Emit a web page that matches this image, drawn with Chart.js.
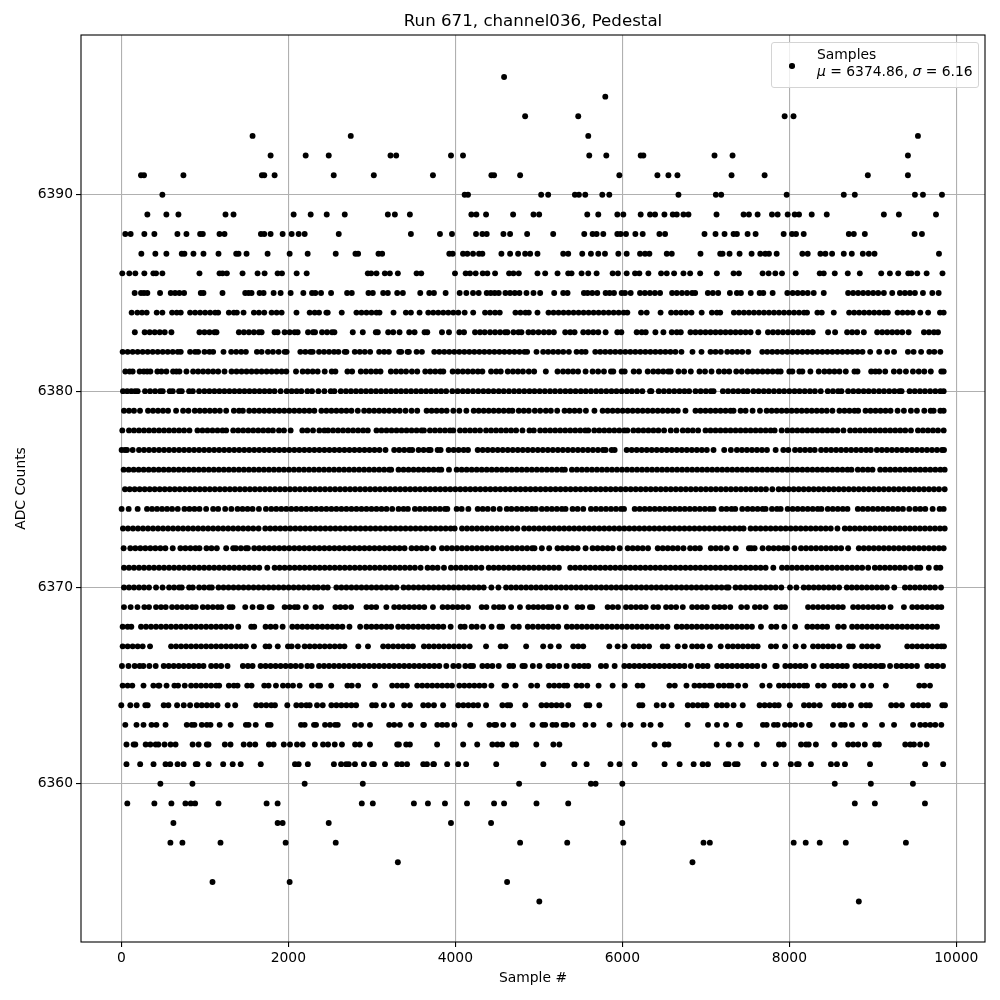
<!DOCTYPE html>
<html>
<head>
<meta charset="utf-8">
<title>Run 671, channel036, Pedestal</title>
<script src="https://cdn.jsdelivr.net/npm/chart.js@4"></script>
<style>
html, body { margin: 0; padding: 0; background: #fff; }
#wrap { position: relative; width: 1000px; height: 1000px; }
#legendBox {
  position: absolute; left: 771px; top: 42px; width: 206px; height: 44px;
  background: rgba(255,255,255,0.8); border: 1px solid #d4d4d4; border-radius: 3px;
  font-family: "DejaVu Sans"; font-size: 13.89px; color: #000;
}
#legendDot { position: absolute; left: 17px; top: 20px; width: 5.5px; height: 5.5px; border-radius: 50%; background: #000; }
#legendText { position: absolute; left: 45px; top: 3px; line-height: 17px; white-space: nowrap; }
</style>
</head>
<body>
<div id="wrap">
  <canvas id="myChart" width="1000" height="1000"></canvas>
  <div id="legendBox">
    <div id="legendDot"></div>
    <div id="legendText">Samples<br><i>μ</i> = 6374.86, <i>σ</i> = 6.16</div>
  </div>
</div>
<script>
var xTicks = [0, 2000, 4000, 6000, 8000, 10000];
var yTicks = [6360, 6370, 6380, 6390];

// sample numbers, one list per ADC level
var s6396 = [4584];
var s6395 = [5796];
var s6394 = [4836, 5472, 7944, 8050];
var s6393 = [1572, 2748, 5592, 9540];
var s6392 = [1788, 2208, 2484, 3224, 3292, 3948, 4092, 5604, 5808, 6220, 6252, 7104, 7320, 9420];
var s6391 = [236, 272, 744, 1684, 1712, 1836, 2544, 3024, 3732, 4432, 4464, 4776, 5964, 6420, 6552, 6660, 7308, 7704, 8940, 9420];
var s6390 = [492, 4112, 4152, 5028, 5112, 5432, 5480, 5556, 5760, 5844, 6672, 7120, 7184, 7968, 8652, 8784, 9504, 9600, 9828];
var s6389 = [312, 540, 684, 1248, 1344, 2064, 2268, 2460, 2676, 3192, 3276, 3456, 4192, 4252, 4368, 4692, 4936, 5004, 5580, 5712, 5940, 6012, 6220, 6332, 6392, 6504, 6604, 6652, 6732, 6792, 7128, 7452, 7516, 7620, 7792, 7860, 7980, 8064, 8116, 8268, 8448, 9132, 9312, 9756];
var s6388 = [48, 112, 276, 396, 672, 780, 944, 976, 1176, 1236, 1672, 1712, 1788, 1932, 2040, 2124, 2196, 2604, 3468, 3816, 3960, 4248, 4324, 4376, 4576, 4656, 4860, 5172, 5544, 5644, 5692, 5772, 5940, 5980, 6044, 6156, 6244, 6444, 6512, 6984, 7116, 7224, 7332, 7372, 7500, 7596, 7932, 8032, 8080, 8172, 8712, 8772, 8904, 9500, 9588];
var s6387 = [240, 408, 540, 724, 756, 864, 984, 1164, 1376, 1404, 1500, 1752, 2016, 2232, 2568, 2804, 2836, 3080, 3124, 3928, 3968, 4092, 4144, 4212, 4284, 4324, 4552, 4656, 4752, 4836, 4896, 4984, 5292, 5352, 5520, 5624, 5712, 5792, 5952, 6052, 6212, 6272, 6324, 6532, 6592, 6936, 7172, 7200, 7284, 7404, 7548, 7652, 7712, 7756, 7848, 8156, 8220, 8372, 8432, 8512, 8652, 8748, 8880, 8952, 9020, 9792];
var s6386 = [12, 96, 168, 276, 384, 416, 492, 936, 1176, 1212, 1264, 1452, 1632, 1716, 1872, 1924, 2100, 2220, 2952, 2992, 3056, 3156, 3216, 3312, 3536, 3592, 3996, 4124, 4176, 4244, 4328, 4384, 4476, 4644, 4696, 4760, 4984, 5076, 5224, 5352, 5392, 5512, 5592, 5692, 5884, 5948, 6052, 6152, 6204, 6312, 6464, 6532, 6620, 6732, 6812, 6932, 7132, 7332, 7396, 7680, 7752, 7832, 7912, 8076, 8364, 8412, 8544, 8700, 8844, 9100, 9204, 9304, 9424, 9460, 9532, 9644, 9834];
var s6385 = [160, 236, 272, 312, 464, 592, 644, 696, 752, 952, 984, 1212, 1484, 1524, 1560, 1656, 1704, 1824, 1908, 2028, 2180, 2284, 2324, 2392, 2512, 2704, 2760, 2960, 3012, 3136, 3192, 3304, 3372, 3580, 3688, 3744, 3884, 4052, 4132, 4212, 4280, 4376, 4424, 4472, 4520, 4600, 4656, 4712, 4768, 4852, 4936, 5016, 5184, 5292, 5344, 5540, 5584, 5640, 5700, 5800, 5848, 5900, 5992, 6032, 6100, 6212, 6270, 6330, 6390, 6452, 6596, 6652, 6714, 6775, 6836, 6872, 7024, 7084, 7148, 7288, 7372, 7420, 7538, 7644, 7688, 7800, 7976, 8040, 8100, 8160, 8220, 8292, 8412, 8704, 8764, 8824, 8884, 8944, 9004, 9064, 9132, 9232, 9324, 9384, 9444, 9504, 9600, 9712, 9788];
var s6384 = [124, 192, 248, 304, 424, 492, 608, 664, 712, 824, 884, 944, 1004, 1064, 1124, 1160, 1288, 1348, 1384, 1464, 1588, 1648, 1712, 1800, 1860, 1920, 2098, 2256, 2316, 2368, 2456, 2472, 2640, 2816, 2876, 2936, 2996, 3056, 3092, 3260, 3408, 3468, 3572, 3676, 3736, 3796, 3856, 3916, 3976, 4036, 4112, 4214, 4356, 4416, 4476, 4532, 4720, 4780, 4840, 4880, 4984, 5116, 5176, 5236, 5296, 5356, 5416, 5476, 5536, 5596, 5656, 5716, 5776, 5836, 5896, 5956, 6016, 6060, 6224, 6292, 6458, 6584, 6644, 6704, 6764, 6828, 6950, 7072, 7132, 7172, 7336, 7396, 7456, 7516, 7576, 7636, 7696, 7756, 7816, 7876, 7936, 7996, 8056, 8116, 8176, 8212, 8336, 8388, 8532, 8716, 8776, 8836, 8896, 8956, 9016, 9076, 9136, 9180, 9296, 9356, 9416, 9476, 9568, 9662, 9804, 9848];
var s6383 = [162, 280, 340, 400, 460, 520, 600, 936, 996, 1056, 1116, 1140, 1408, 1468, 1528, 1588, 1648, 1680, 1836, 1872, 1956, 2016, 2076, 2112, 2236, 2296, 2320, 2404, 2464, 2524, 2552, 2772, 2892, 3048, 3072, 3196, 3256, 3332, 3448, 3512, 3632, 3664, 3840, 3924, 4048, 4104, 4236, 4296, 4352, 4416, 4476, 4536, 4596, 4624, 4696, 4756, 4792, 4876, 4932, 4996, 5060, 5120, 5180, 5316, 5376, 5428, 5532, 5592, 5652, 5712, 5800, 5940, 5988, 6172, 6232, 6280, 6396, 6492, 6592, 6652, 6700, 6816, 6876, 6936, 6996, 7056, 7116, 7176, 7236, 7296, 7356, 7416, 7476, 7536, 7628, 7744, 7804, 7864, 7924, 7984, 8044, 8104, 8164, 8224, 8280, 8464, 8548, 8692, 8752, 8812, 8892, 9052, 9112, 9172, 9232, 9292, 9352, 9428, 9612, 9672, 9732, 9780];
var s6382 = [16, 76, 136, 196, 256, 316, 376, 436, 496, 556, 616, 676, 712, 824, 884, 920, 996, 1056, 1100, 1224, 1316, 1376, 1436, 1492, 1624, 1680, 1756, 1816, 1884, 1956, 1980, 2144, 2204, 2264, 2292, 2368, 2428, 2488, 2548, 2600, 2676, 2696, 2796, 2856, 2916, 2980, 3088, 3148, 3204, 3328, 3352, 3428, 3444, 3536, 3600, 3748, 3808, 3868, 3928, 3988, 4048, 4108, 4168, 4228, 4288, 4348, 4408, 4468, 4528, 4588, 4648, 4708, 4768, 4828, 4860, 4972, 5052, 5112, 5172, 5232, 5292, 5360, 5452, 5512, 5560, 5676, 5736, 5796, 5856, 5916, 5976, 6036, 6096, 6156, 6216, 6276, 6336, 6396, 6456, 6516, 6576, 6636, 6708, 6840, 6948, 7056, 7116, 7180, 7256, 7316, 7376, 7436, 7508, 7676, 7736, 7796, 7856, 7916, 7976, 8036, 8096, 8156, 8216, 8276, 8336, 8396, 8456, 8516, 8576, 8636, 8696, 8756, 8816, 8876, 8968, 9076, 9172, 9254, 9420, 9488, 9578, 9676, 9736, 9808];
var s6381 = [48, 100, 136, 220, 270, 310, 348, 432, 480, 540, 620, 660, 696, 780, 860, 920, 980, 1040, 1100, 1160, 1236, 1320, 1380, 1440, 1500, 1560, 1620, 1680, 1740, 1800, 1860, 1920, 1976, 2092, 2172, 2232, 2292, 2352, 2436, 2520, 2564, 2708, 2764, 2868, 2930, 2990, 3050, 3104, 3228, 3290, 3350, 3410, 3480, 3544, 3640, 3700, 3760, 3820, 3856, 3968, 4030, 4090, 4150, 4210, 4270, 4324, 4428, 4490, 4544, 4628, 4690, 4750, 4810, 4880, 4944, 5084, 5224, 5290, 5350, 5410, 5470, 5560, 5644, 5710, 5780, 5864, 5892, 5992, 6028, 6136, 6200, 6304, 6370, 6430, 6490, 6550, 6580, 6672, 6740, 6820, 6924, 6990, 7068, 7156, 7220, 7280, 7364, 7430, 7500, 7560, 7620, 7680, 7740, 7800, 7860, 7896, 8000, 8036, 8120, 8156, 8252, 8352, 8420, 8480, 8540, 8600, 8676, 8780, 8816, 8980, 9030, 9076, 9148, 9252, 9320, 9396, 9480, 9550, 9616, 9694, 9820, 9848];
var s6380 = [20, 70, 120, 165, 196, 284, 345, 405, 465, 496, 580, 616, 692, 724, 812, 856, 932, 995, 1055, 1115, 1175, 1235, 1295, 1355, 1415, 1475, 1535, 1595, 1655, 1715, 1775, 1835, 1908, 1980, 2040, 2100, 2156, 2228, 2284, 2360, 2432, 2508, 2552, 2628, 2690, 2750, 2810, 2870, 2930, 2990, 3050, 3110, 3170, 3230, 3290, 3350, 3410, 3470, 3530, 3590, 3650, 3710, 3770, 3830, 3890, 3964, 4028, 4090, 4150, 4212, 4274, 4336, 4396, 4458, 4520, 4580, 4642, 4704, 4764, 4826, 4888, 4948, 5010, 5072, 5134, 5194, 5256, 5318, 5378, 5440, 5502, 5562, 5624, 5686, 5746, 5808, 5870, 5930, 5992, 6054, 6114, 6176, 6240, 6332, 6348, 6436, 6498, 6560, 6622, 6684, 6744, 6800, 6876, 6938, 7000, 7060, 7092, 7204, 7266, 7328, 7388, 7450, 7500, 7570, 7632, 7694, 7754, 7816, 7878, 7938, 8000, 8062, 8122, 8184, 8246, 8306, 8376, 8460, 8522, 8584, 8624, 8704, 8766, 8828, 8890, 8950, 9012, 9074, 9134, 9196, 9258, 9318, 9344, 9440, 9502, 9564, 9624, 9686, 9748, 9808, 9848];
var s6379 = [32, 92, 152, 224, 320, 380, 440, 500, 560, 656, 740, 804, 880, 940, 1000, 1060, 1120, 1180, 1256, 1348, 1410, 1456, 1532, 1592, 1652, 1712, 1772, 1832, 1892, 1952, 2012, 2072, 2132, 2192, 2252, 2312, 2396, 2456, 2516, 2576, 2636, 2696, 2756, 2832, 2908, 2968, 3028, 3088, 3148, 3208, 3272, 3334, 3404, 3476, 3544, 3656, 3716, 3776, 3836, 3896, 3976, 4048, 4132, 4220, 4280, 4340, 4400, 4460, 4520, 4580, 4640, 4684, 4760, 4820, 4880, 4952, 5016, 5084, 5144, 5220, 5308, 5368, 5428, 5488, 5564, 5666, 5764, 5824, 5884, 5944, 6004, 6064, 6124, 6184, 6244, 6304, 6364, 6424, 6484, 6544, 6604, 6664, 6756, 6876, 6936, 6996, 7056, 7116, 7176, 7236, 7296, 7332, 7416, 7476, 7560, 7648, 7728, 7788, 7848, 7908, 7968, 8028, 8088, 8148, 8208, 8268, 8328, 8388, 8448, 8516, 8600, 8660, 8720, 8780, 8824, 8912, 8972, 9032, 9092, 9152, 9212, 9296, 9372, 9456, 9528, 9616, 9692, 9728, 9808, 9848];
var s6378 = [12, 92, 152, 212, 272, 332, 392, 452, 512, 572, 632, 692, 752, 816, 912, 972, 1032, 1092, 1152, 1212, 1256, 1340, 1400, 1460, 1520, 1580, 1640, 1700, 1760, 1816, 1888, 1948, 2028, 2168, 2228, 2296, 2372, 2432, 2476, 2536, 2596, 2656, 2716, 2776, 2836, 2896, 2952, 3056, 3116, 3176, 3236, 3296, 3356, 3416, 3476, 3536, 3596, 3624, 3696, 3756, 3816, 3876, 3936, 3976, 4056, 4116, 4176, 4236, 4296, 4368, 4428, 4488, 4548, 4608, 4668, 4728, 4804, 4888, 4940, 5016, 5076, 5136, 5196, 5256, 5316, 5376, 5436, 5496, 5556, 5592, 5664, 5724, 5784, 5844, 5904, 5964, 6024, 6060, 6132, 6192, 6252, 6312, 6372, 6432, 6500, 6580, 6648, 6724, 6784, 6844, 6908, 6996, 7056, 7116, 7176, 7236, 7296, 7356, 7416, 7476, 7536, 7596, 7656, 7716, 7776, 7824, 7908, 7976, 8036, 8096, 8156, 8216, 8276, 8336, 8396, 8456, 8516, 8576, 8648, 8728, 8788, 8848, 8908, 8968, 9028, 9088, 9148, 9208, 9268, 9328, 9388, 9456, 9540, 9600, 9660, 9720, 9780, 9848];
var s6377 = [4, 44, 68, 136, 212, 272, 332, 392, 452, 512, 572, 632, 692, 752, 812, 872, 932, 992, 1052, 1112, 1172, 1232, 1292, 1352, 1412, 1472, 1532, 1592, 1652, 1712, 1772, 1832, 1892, 1952, 2012, 2072, 2132, 2192, 2252, 2312, 2372, 2432, 2492, 2552, 2612, 2672, 2732, 2792, 2852, 2912, 2972, 3032, 3092, 3164, 3268, 3328, 3388, 3448, 3484, 3560, 3620, 3680, 3704, 3788, 3824, 3920, 3980, 4040, 4100, 4152, 4268, 4328, 4388, 4448, 4508, 4568, 4628, 4688, 4748, 4808, 4868, 4928, 4988, 5048, 5108, 5168, 5228, 5288, 5348, 5408, 5468, 5528, 5588, 5648, 5708, 5768, 5800, 5872, 5908, 6052, 6112, 6172, 6232, 6292, 6352, 6412, 6472, 6532, 6592, 6652, 6712, 6772, 6832, 6892, 6952, 7012, 7092, 7220, 7300, 7372, 7432, 7492, 7552, 7612, 7672, 7732, 7836, 7928, 7988, 8068, 8128, 8188, 8248, 8304, 8380, 8440, 8500, 8560, 8620, 8680, 8740, 8800, 8860, 8920, 8976, 9048, 9108, 9168, 9228, 9288, 9348, 9408, 9468, 9528, 9588, 9648, 9708, 9768, 9828, 9852];
var s6376 = [28, 88, 148, 208, 268, 328, 388, 448, 508, 568, 628, 688, 748, 808, 868, 928, 988, 1048, 1108, 1168, 1228, 1288, 1348, 1408, 1468, 1528, 1588, 1648, 1708, 1768, 1828, 1888, 1948, 2008, 2068, 2128, 2188, 2248, 2308, 2368, 2428, 2488, 2548, 2608, 2668, 2728, 2788, 2848, 2908, 2968, 3028, 3088, 3148, 3208, 3232, 3320, 3380, 3440, 3500, 3560, 3620, 3680, 3740, 3800, 3832, 3924, 4016, 4076, 4136, 4196, 4256, 4316, 4376, 4436, 4496, 4556, 4616, 4676, 4736, 4796, 4856, 4916, 4976, 5036, 5096, 5156, 5216, 5276, 5312, 5396, 5456, 5516, 5576, 5636, 5696, 5756, 5816, 5876, 5936, 5996, 6056, 6116, 6176, 6236, 6296, 6356, 6416, 6476, 6536, 6596, 6656, 6716, 6776, 6836, 6896, 6956, 7016, 7076, 7136, 7196, 7256, 7316, 7376, 7436, 7496, 7556, 7616, 7676, 7736, 7796, 7856, 7916, 7976, 8036, 8096, 8156, 8216, 8276, 8336, 8396, 8456, 8516, 8576, 8636, 8696, 8744, 8820, 8880, 8940, 8996, 9088, 9148, 9208, 9268, 9328, 9388, 9448, 9508, 9568, 9628, 9688, 9748, 9808, 9860];
var s6375 = [44, 100, 160, 220, 280, 340, 400, 460, 520, 580, 640, 700, 760, 820, 880, 940, 1000, 1060, 1120, 1180, 1240, 1300, 1360, 1420, 1480, 1540, 1600, 1660, 1720, 1780, 1840, 1900, 1960, 2020, 2080, 2140, 2200, 2260, 2320, 2380, 2440, 2500, 2560, 2620, 2680, 2740, 2800, 2860, 2920, 2980, 3040, 3100, 3160, 3220, 3280, 3340, 3400, 3460, 3520, 3580, 3640, 3700, 3760, 3820, 3880, 3940, 4000, 4060, 4120, 4180, 4240, 4300, 4360, 4420, 4480, 4540, 4600, 4660, 4720, 4780, 4840, 4900, 4960, 5020, 5080, 5140, 5200, 5260, 5320, 5380, 5440, 5500, 5560, 5620, 5680, 5740, 5800, 5860, 5920, 5980, 6040, 6100, 6160, 6220, 6280, 6340, 6400, 6460, 6520, 6580, 6640, 6700, 6760, 6820, 6880, 6940, 7000, 7060, 7120, 7180, 7240, 7300, 7360, 7420, 7480, 7540, 7600, 7660, 7720, 7796, 7872, 7932, 7992, 8052, 8112, 8172, 8232, 8292, 8352, 8412, 8472, 8532, 8592, 8652, 8712, 8772, 8832, 8892, 8952, 9012, 9072, 9132, 9192, 9252, 9312, 9372, 9432, 9492, 9552, 9612, 9672, 9732, 9792, 9860];
var s6374 = [4, 88, 196, 308, 368, 428, 488, 548, 608, 676, 756, 816, 876, 936, 1016, 1100, 1160, 1244, 1318, 1392, 1452, 1512, 1572, 1648, 1732, 1796, 1856, 1916, 1976, 2036, 2096, 2156, 2216, 2276, 2336, 2396, 2456, 2516, 2576, 2636, 2696, 2756, 2816, 2876, 2936, 2996, 3056, 3116, 3176, 3244, 3320, 3380, 3432, 3516, 3576, 3636, 3696, 3756, 3816, 3876, 3904, 4016, 4076, 4156, 4268, 4328, 4388, 4456, 4532, 4616, 4672, 4736, 4796, 4856, 4916, 4964, 5036, 5096, 5156, 5216, 5276, 5320, 5404, 5464, 5532, 5624, 5684, 5744, 5804, 5864, 5924, 5984, 6020, 6148, 6208, 6268, 6328, 6388, 6448, 6508, 6568, 6628, 6688, 6748, 6808, 6868, 6928, 6988, 7048, 7092, 7188, 7248, 7308, 7352, 7436, 7500, 7560, 7620, 7680, 7716, 7792, 7852, 7896, 7980, 8040, 8100, 8160, 8220, 8280, 8340, 8384, 8460, 8520, 8580, 8640, 8696, 8820, 8880, 8940, 9000, 9060, 9120, 9180, 9240, 9300, 9360, 9436, 9508, 9568, 9628, 9716, 9800, 9848];
var s6373 = [20, 80, 140, 200, 260, 320, 380, 440, 500, 560, 620, 680, 740, 800, 860, 920, 980, 1040, 1100, 1160, 1220, 1280, 1340, 1400, 1460, 1520, 1580, 1644, 1724, 1784, 1844, 1904, 1964, 2024, 2084, 2144, 2204, 2264, 2324, 2384, 2444, 2504, 2564, 2624, 2684, 2744, 2804, 2864, 2924, 2984, 3044, 3104, 3164, 3224, 3284, 3344, 3404, 3464, 3524, 3584, 3644, 3704, 3764, 3824, 3884, 3944, 3992, 4080, 4140, 4200, 4260, 4320, 4380, 4440, 4500, 4560, 4620, 4680, 4744, 4824, 4884, 4944, 5004, 5064, 5124, 5184, 5244, 5304, 5364, 5424, 5484, 5544, 5604, 5664, 5724, 5784, 5844, 5904, 5964, 6024, 6084, 6144, 6204, 6264, 6324, 6384, 6444, 6504, 6564, 6624, 6684, 6744, 6804, 6864, 6924, 6984, 7044, 7104, 7164, 7224, 7284, 7344, 7404, 7452, 7536, 7596, 7656, 7716, 7776, 7836, 7896, 7956, 8016, 8076, 8136, 8196, 8256, 8316, 8376, 8436, 8496, 8576, 8664, 8724, 8784, 8844, 8904, 8964, 9024, 9084, 9144, 9204, 9264, 9324, 9384, 9444, 9504, 9564, 9624, 9684, 9744, 9804, 9860];
var s6372 = [28, 108, 168, 228, 288, 348, 408, 468, 528, 616, 708, 768, 828, 888, 936, 1020, 1080, 1144, 1256, 1340, 1372, 1432, 1492, 1516, 1592, 1652, 1712, 1772, 1832, 1892, 1952, 2012, 2072, 2132, 2192, 2252, 2312, 2372, 2432, 2492, 2552, 2612, 2672, 2732, 2792, 2852, 2912, 2972, 3032, 3092, 3152, 3212, 3272, 3332, 3392, 3476, 3536, 3596, 3656, 3736, 3840, 3900, 3960, 4020, 4080, 4140, 4200, 4260, 4320, 4380, 4440, 4500, 4560, 4620, 4680, 4740, 4800, 4860, 4920, 4948, 5036, 5124, 5224, 5284, 5344, 5404, 5464, 5560, 5644, 5704, 5764, 5824, 5884, 5968, 6064, 6124, 6184, 6244, 6308, 6424, 6484, 6544, 6604, 6664, 6732, 6812, 6872, 6928, 7060, 7120, 7180, 7252, 7358, 7516, 7544, 7584, 7680, 7752, 7812, 7872, 7932, 7976, 8060, 8140, 8200, 8260, 8320, 8380, 8440, 8500, 8560, 8620, 8704, 8832, 8892, 8952, 9012, 9072, 9132, 9192, 9252, 9312, 9372, 9432, 9492, 9552, 9612, 9672, 9732, 9792, 9848];
var s6371 = [32, 92, 152, 212, 272, 332, 392, 452, 512, 572, 632, 692, 752, 812, 872, 932, 992, 1052, 1112, 1172, 1232, 1292, 1352, 1412, 1472, 1532, 1592, 1652, 1748, 1836, 1896, 1956, 2016, 2076, 2136, 2196, 2256, 2316, 2376, 2436, 2496, 2556, 2616, 2676, 2736, 2796, 2856, 2916, 2976, 3036, 3096, 3156, 3216, 3276, 3336, 3396, 3456, 3516, 3584, 3668, 3728, 3788, 3864, 3948, 4008, 4068, 4128, 4188, 4248, 4312, 4400, 4460, 4520, 4580, 4640, 4700, 4760, 4820, 4880, 4940, 5000, 5060, 5120, 5180, 5240, 5376, 5436, 5496, 5556, 5616, 5676, 5736, 5796, 5856, 5916, 5976, 6036, 6096, 6156, 6216, 6276, 6336, 6396, 6456, 6516, 6576, 6636, 6696, 6756, 6816, 6876, 6936, 6996, 7056, 7116, 7176, 7236, 7296, 7356, 7416, 7476, 7536, 7596, 7656, 7716, 7808, 7912, 7972, 8032, 8092, 8152, 8212, 8272, 8332, 8392, 8452, 8512, 8572, 8632, 8692, 8752, 8812, 8872, 8944, 9024, 9084, 9144, 9204, 9264, 9324, 9384, 9456, 9528, 9568, 9670, 9760, 9808];
var s6370 = [32, 92, 152, 212, 272, 332, 416, 494, 572, 632, 692, 724, 812, 856, 932, 992, 1052, 1084, 1164, 1224, 1284, 1344, 1404, 1464, 1524, 1584, 1644, 1704, 1764, 1824, 1884, 1944, 2004, 2064, 2124, 2184, 2244, 2304, 2356, 2420, 2472, 2576, 2636, 2696, 2756, 2816, 2876, 2936, 2996, 3056, 3116, 3176, 3236, 3296, 3380, 3440, 3500, 3560, 3620, 3680, 3740, 3800, 3860, 3920, 3980, 4040, 4100, 4160, 4220, 4280, 4340, 4432, 4516, 4608, 4668, 4728, 4788, 4848, 4908, 4968, 5028, 5088, 5148, 5208, 5268, 5328, 5388, 5448, 5508, 5568, 5628, 5688, 5748, 5808, 5868, 5928, 5988, 6048, 6108, 6168, 6228, 6288, 6348, 6408, 6468, 6528, 6588, 6648, 6708, 6768, 6828, 6888, 6948, 7008, 7068, 7128, 7188, 7248, 7272, 7356, 7416, 7476, 7536, 7596, 7656, 7716, 7776, 7836, 7904, 8008, 8084, 8172, 8232, 8292, 8352, 8412, 8472, 8532, 8596, 8688, 8748, 8808, 8868, 8928, 8988, 9048, 9108, 9168, 9256, 9384, 9444, 9504, 9564, 9624, 9684, 9744, 9816];
var s6369 = [32, 112, 194, 276, 332, 416, 476, 532, 608, 668, 728, 788, 848, 892, 976, 1036, 1096, 1156, 1200, 1296, 1332, 1484, 1572, 1656, 1680, 1776, 1800, 1956, 2016, 2076, 2112, 2210, 2324, 2392, 2564, 2624, 2684, 2752, 2936, 2996, 3052, 3174, 3268, 3328, 3388, 3448, 3508, 3568, 3628, 3732, 3848, 3908, 3968, 4028, 4088, 4152, 4316, 4372, 4464, 4524, 4572, 4668, 4774, 4876, 4936, 4992, 5052, 5112, 5148, 5232, 5324, 5464, 5520, 5612, 5640, 5824, 5884, 5948, 6044, 6104, 6164, 6224, 6280, 6372, 6428, 6524, 6584, 6644, 6724, 6836, 6896, 6956, 7012, 7104, 7164, 7224, 7292, 7424, 7492, 7588, 7648, 7716, 7844, 7904, 7948, 8224, 8284, 8344, 8404, 8464, 8524, 8584, 8640, 8764, 8824, 8884, 8944, 9004, 9064, 9124, 9212, 9372, 9472, 9532, 9592, 9652, 9712, 9772, 9820];
var s6368 = [16, 76, 120, 236, 296, 356, 416, 476, 536, 596, 656, 716, 776, 836, 896, 956, 1016, 1076, 1136, 1196, 1256, 1316, 1400, 1556, 1592, 1728, 1788, 1848, 1932, 2048, 2108, 2168, 2228, 2288, 2348, 2408, 2468, 2528, 2588, 2648, 2732, 2860, 2936, 2996, 3056, 3116, 3176, 3232, 3316, 3376, 3436, 3496, 3556, 3616, 3676, 3736, 3796, 3856, 3944, 4064, 4112, 4196, 4256, 4332, 4434, 4528, 4560, 4696, 4760, 4868, 4928, 4992, 5052, 5112, 5172, 5232, 5336, 5396, 5456, 5516, 5576, 5636, 5696, 5756, 5816, 5876, 5936, 5996, 6056, 6116, 6176, 6236, 6296, 6356, 6416, 6476, 6540, 6652, 6712, 6772, 6832, 6892, 6952, 7012, 7072, 7132, 7192, 7252, 7312, 7372, 7432, 7492, 7552, 7660, 7784, 7844, 7940, 8068, 8216, 8276, 8336, 8396, 8452, 8584, 8652, 8752, 8812, 8872, 8932, 8992, 9052, 9112, 9172, 9232, 9292, 9352, 9412, 9472, 9532, 9592, 9652, 9712, 9768];
var s6367 = [16, 76, 136, 196, 256, 344, 596, 656, 716, 776, 836, 896, 956, 1016, 1076, 1136, 1196, 1256, 1316, 1376, 1436, 1492, 1588, 1728, 1772, 1874, 1996, 2040, 2114, 2196, 2256, 2316, 2376, 2436, 2496, 2556, 2616, 2672, 2838, 2954, 3136, 3196, 3256, 3316, 3376, 3436, 3492, 3624, 3684, 3744, 3804, 3864, 3924, 3984, 4044, 4104, 4172, 4368, 4544, 4600, 4848, 5052, 5140, 5240, 5412, 5472, 5532, 5844, 5944, 6028, 6136, 6196, 6256, 6320, 6484, 6540, 6664, 6748, 6836, 6896, 6956, 7048, 7178, 7264, 7324, 7384, 7444, 7504, 7564, 7620, 7780, 7840, 7948, 8076, 8172, 8284, 8344, 8404, 8464, 8524, 8600, 8716, 8760, 8872, 8932, 8992, 9060, 9412, 9472, 9532, 9592, 9652, 9712, 9772, 9820, 9852];
var s6366 = [8, 86, 160, 220, 264, 336, 412, 508, 568, 628, 688, 748, 808, 868, 928, 984, 1076, 1136, 1196, 1272, 1456, 1516, 1572, 1668, 1728, 1788, 1848, 1908, 1968, 2028, 2088, 2152, 2228, 2280, 2368, 2428, 2488, 2548, 2608, 2668, 2728, 2788, 2848, 2908, 2968, 3028, 3088, 3148, 3208, 3268, 3328, 3388, 3448, 3508, 3568, 3628, 3688, 3748, 3808, 3892, 3976, 4040, 4120, 4180, 4212, 4324, 4384, 4444, 4520, 4648, 4692, 4804, 4832, 4928, 5008, 5116, 5176, 5244, 5332, 5424, 5484, 5544, 5592, 5744, 5804, 5908, 6024, 6084, 6144, 6204, 6264, 6324, 6384, 6444, 6504, 6564, 6624, 6684, 6744, 6820, 6904, 6964, 7020, 7136, 7196, 7256, 7316, 7376, 7436, 7496, 7556, 7616, 7700, 7832, 7848, 7952, 8012, 8072, 8132, 8192, 8292, 8396, 8456, 8516, 8576, 8636, 8688, 8792, 8852, 8912, 8972, 9032, 9092, 9120, 9206, 9284, 9344, 9404, 9464, 9528, 9652, 9712, 9772, 9840];
var s6365 = [16, 76, 132, 266, 384, 444, 456, 542, 636, 680, 760, 836, 896, 956, 1016, 1076, 1136, 1172, 1288, 1348, 1392, 1508, 1560, 1712, 1764, 1852, 1936, 1996, 2056, 2136, 2282, 2356, 2380, 2514, 2708, 2760, 2836, 3038, 3244, 3304, 3364, 3420, 3544, 3604, 3664, 3724, 3784, 3844, 3904, 3960, 4048, 4108, 4168, 4228, 4288, 4348, 4432, 4588, 4608, 4720, 4908, 4980, 5124, 5184, 5244, 5304, 5340, 5452, 5512, 5580, 5716, 5884, 6028, 6184, 6240, 6564, 6628, 6768, 6864, 6924, 6984, 7044, 7072, 7156, 7216, 7276, 7308, 7386, 7472, 7676, 7764, 7876, 7936, 7996, 8056, 8116, 8176, 8212, 8344, 8412, 8544, 8604, 8664, 8760, 8884, 8980, 9156, 9556, 9616, 9684];
var s6364 = [0, 108, 184, 288, 316, 508, 564, 668, 748, 824, 904, 964, 1024, 1084, 1152, 1274, 1364, 1616, 1676, 1736, 1796, 1840, 1988, 2096, 2156, 2216, 2256, 2344, 2412, 2516, 2576, 2636, 2696, 2756, 2812, 3004, 3048, 3144, 3242, 3388, 3456, 3616, 3676, 3744, 3854, 4036, 4096, 4156, 4216, 4272, 4368, 4564, 4624, 4656, 4838, 5032, 5092, 5152, 5212, 5272, 5352, 5572, 5604, 5724, 6204, 6240, 6412, 6492, 6590, 6784, 6844, 6904, 6964, 7008, 7132, 7192, 7252, 7332, 7442, 7644, 7704, 7764, 7824, 7872, 8006, 8176, 8236, 8296, 8364, 8536, 8596, 8652, 8738, 8860, 8920, 8964, 9220, 9280, 9348, 9484, 9544, 9604, 9660, 9832, 9864];
var s6363 = [48, 182, 266, 362, 420, 530, 784, 844, 876, 964, 1024, 1068, 1178, 1310, 1492, 1524, 1610, 1756, 1788, 2152, 2196, 2308, 2332, 2440, 2500, 2560, 2592, 2798, 2870, 2978, 3208, 3268, 3336, 3470, 3616, 3624, 3784, 3844, 3900, 3988, 4178, 4408, 4468, 4488, 4574, 4694, 4924, 5044, 5076, 5164, 5208, 5296, 5328, 5402, 5558, 5654, 5846, 6014, 6098, 6254, 6338, 6458, 6782, 7026, 7134, 7242, 7396, 7408, 7684, 7728, 7816, 7860, 7948, 8008, 8068, 8148, 8236, 8244, 8522, 8620, 8664, 8750, 8906, 9110, 9254, 9482, 9568, 9628, 9688, 9748, 9820];
var s6362 = [62, 148, 168, 292, 348, 412, 444, 518, 590, 650, 854, 926, 1024, 1044, 1240, 1308, 1466, 1538, 1604, 1768, 1824, 1946, 2020, 2104, 2172, 2318, 2416, 2476, 2556, 2642, 2800, 2856, 2978, 3304, 3324, 3412, 3456, 3782, 4094, 4262, 4444, 4504, 4560, 4684, 4728, 4970, 5174, 5246, 6386, 6508, 6552, 7130, 7274, 7418, 7610, 7876, 7932, 8140, 8200, 8232, 8318, 8540, 8704, 8764, 8824, 8904, 9028, 9072, 9388, 9448, 9492, 9566, 9644];
var s6361 = [62, 226, 386, 530, 586, 674, 746, 892, 912, 1046, 1220, 1334, 1430, 1670, 2080, 2124, 2234, 2546, 2632, 2692, 2724, 2798, 2906, 3004, 3024, 3158, 3304, 3360, 3422, 3616, 3660, 3736, 3744, 3902, 4034, 4130, 4490, 5054, 5426, 5572, 5858, 5966, 6146, 6506, 6686, 6854, 6962, 7026, 7240, 7272, 7348, 7380, 7694, 7838, 8018, 8092, 8112, 8258, 8498, 8570, 8666, 8966, 9626, 9842];
var s6360 = [468, 852, 2196, 2892, 4764, 5624, 5680, 6000, 8544, 8976, 9480];
var s6359 = [72, 396, 600, 768, 832, 884, 1164, 1740, 1872, 2880, 3012, 3504, 3672, 3876, 4140, 4464, 4584, 4972, 5352, 8784, 9024, 9624];
var s6358 = [624, 1872, 1932, 2484, 3948, 4428, 6000];
var s6357 = [588, 732, 1188, 1968, 2568, 4776, 5340, 6012, 6972, 7048, 8052, 8196, 8364, 8676, 9396];
var s6356 = [3312, 6840];
var s6355 = [1092, 2016, 4620];
var s6354 = [5006, 8832];

var adcLevels = [6396, 6395, 6394, 6393, 6392, 6391, 6390, 6389, 6388, 6387, 6386, 6385, 6384, 6383, 6382, 6381, 6380, 6379, 6378, 6377, 6376, 6375, 6374, 6373, 6372, 6371, 6370, 6369, 6368, 6367, 6366, 6365, 6364, 6363, 6362, 6361, 6360, 6359, 6358, 6357, 6356, 6355, 6354];
var levelSamples = [s6396, s6395, s6394, s6393, s6392, s6391, s6390, s6389, s6388, s6387, s6386, s6385, s6384, s6383, s6382, s6381, s6380, s6379, s6378, s6377, s6376, s6375, s6374, s6373, s6372, s6371, s6370, s6369, s6368, s6367, s6366, s6365, s6364, s6363, s6362, s6361, s6360, s6359, s6358, s6357, s6356, s6355, s6354];

var points = [];
adcLevels.forEach(function (level, i) {
    levelSamples[i].forEach(function (sample) {
        points.push({ x: sample, y: level });
    });
});

var font = { family: "DejaVu Sans", size: 13.89 };

// frame round the plot, Chart.js only draws the two axis sides
var frame = {
    id: "frame",
    afterDatasetsDraw: function (chart) {
        var a = chart.chartArea, ctx = chart.ctx;
        ctx.save();
        ctx.strokeStyle = "#000";
        ctx.lineWidth = 1.1;
        ctx.strokeRect(a.left, a.top, a.right - a.left, a.bottom - a.top);
        ctx.restore();
    }
};

new Chart(document.getElementById("myChart").getContext("2d"), {
    type: "scatter",
    plugins: [frame],
    data: {
        datasets: [{
            label: "Samples",
            data: points,
            backgroundColor: "#000",
            borderWidth: 0,
            pointRadius: 2.95,
            pointHoverRadius: 2.95
        }]
    },
    options: {
        responsive: false,
        animation: false,
        layout: { padding: { top: 0, right: 15, bottom: 0, left: 0 } },
        plugins: {
            legend: { display: false },
            tooltip: { enabled: false },
            title: {
                display: true,
                fullSize: false,
                text: "Run 671, channel036, Pedestal",
                color: "#000",
                font: { family: "DejaVu Sans", size: 16.67, weight: "normal", lineHeight: 1.2 },
                padding: { top: 12, bottom: 3 }
            }
        },
        scales: {
            x: {
                type: "linear",
                min: -482.6,
                max: 10343,
                afterBuildTicks: function (axis) {
                    axis.ticks = xTicks.map(function (v) { return { value: v }; });
                },
                afterFit: function (axis) { axis.height = 58; },
                grid: { color: "#b0b0b0", lineWidth: 1.1, tickColor: "#000", tickLength: 5 },
                border: { display: false },
                ticks: { color: "#000", font: font, maxRotation: 0, padding: 3, callback: function (v) { return String(v); } },
                title: { display: true, text: "Sample #", color: "#000", font: font, padding: { top: 4, bottom: 13 } }
            },
            y: {
                type: "linear",
                min: 6351.94,
                max: 6398.14,
                afterBuildTicks: function (axis) {
                    axis.ticks = yTicks.map(function (v) { return { value: v }; });
                },
                afterFit: function (axis) { axis.width = 81; },
                grid: { color: "#b0b0b0", lineWidth: 1.1, tickColor: "#000", tickLength: 5 },
                border: { display: false },
                ticks: { color: "#000", font: font, padding: 3, callback: function (v) { return String(v); } },
                title: { display: true, text: "ADC Counts", color: "#000", font: font, padding: { top: 13, bottom: 4 } }
            }
        }
    }
});
</script>
</body>
</html>
